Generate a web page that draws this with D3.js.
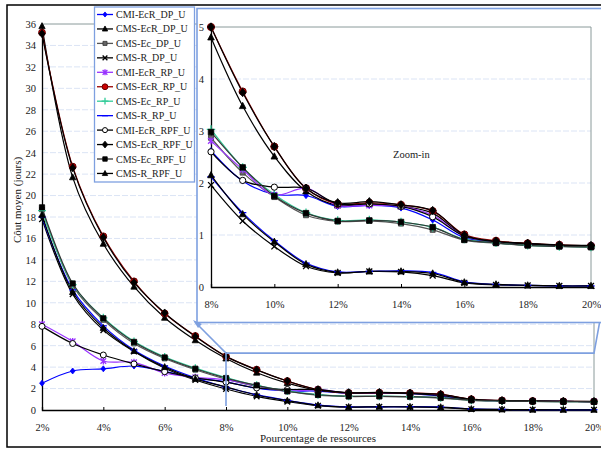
<!DOCTYPE html>
<html><head><meta charset="utf-8">
<script src="https://cdn.jsdelivr.net/npm/d3@7"></script>
<style>
body{margin:0;background:#fff}
svg{display:block}
text{font-family:"Liberation Serif","Times New Roman",serif;fill:#222}
</style>
</head><body>
<svg id="chart" width="601" height="450"></svg>
<script>
// ---------- DATA ----------
const percents = [2,3,4,5,6,7,8,9,10,11,12,13,14,15,16,17,18,19,20];
const mainXTicks = [2,4,6,8,10,12,14,16,18,20];
const mainYTicks = [0,2,4,6,8,10,12,14,16,18,20,22,24,26,28,30,32,34,36];
const insetXTicks = [8,10,12,14,16,18,20];
const insetYTicks = [0,1,2,3,4,5];
const seriesNames = ["CMI-EcR_DP_U","CMS-EcR_DP_U","CMS-Ec_DP_U","CMS-R_DP_U","CMI-EcR_RP_U","CMS-EcR_RP_U","CMS-Ec_RP_U","CMS-R_RP_U","CMI-EcR_RPF_U","CMS-EcR_RPF_U","CMS-Ec_RPF_U","CMS-R_RPF_U"];

const CMI_EcR_DP  = [2.5,3.64,3.84,4.1,3.6,3.0,2.62,2.04,1.78,1.76,1.55,1.57,1.52,1.29,0.95,0.86,0.82,0.8,0.78];
const CMS_EcR_DP  = [35.8,21.7,15.5,11.5,8.6,6.5,4.8,3.48,2.51,1.84,1.57,1.6,1.55,1.42,0.98,0.87,0.82,0.8,0.78];
const CMS_Ec_DP   = [18.7,11.6,8.4,6.2,4.8,3.75,2.87,2.2,1.73,1.38,1.26,1.27,1.22,1.1,0.9,0.84,0.8,0.78,0.76];
const CMS_R_DP    = [17.8,10.8,7.45,5.45,3.9,2.8,1.96,1.27,0.78,0.4,0.27,0.3,0.29,0.22,0.08,0.04,0.03,0.02,0.02];
const CMI_EcR_RP  = [8.0,6.4,4.57,4.45,3.45,3.05,2.81,2.26,1.77,1.9,1.57,1.57,1.55,1.38,0.98,0.87,0.83,0.8,0.79];
const CMS_EcR_RP  = [35.2,22.7,16.2,12.0,9.0,6.9,5.0,3.76,2.7,1.9,1.6,1.62,1.58,1.46,1.01,0.89,0.84,0.81,0.79];
const CMS_Ec_RP   = [18.6,11.7,8.6,6.4,4.95,3.9,3.03,2.3,1.78,1.43,1.28,1.29,1.25,1.15,0.92,0.85,0.8,0.78,0.77];
const CMS_R_RP    = [18.0,11.2,7.85,5.6,4.1,3.0,2.12,1.43,0.89,0.46,0.29,0.3,0.31,0.28,0.1,0.05,0.03,0.02,0.02];
const CMI_EcR_RPF = [7.8,6.2,5.13,4.3,3.57,3.0,2.6,2.05,1.92,1.9,1.6,1.6,1.55,1.35,0.98,0.87,0.83,0.8,0.79];
const CMS_EcR_RPF = [35.1,22.6,16.1,11.9,9.05,6.85,5.0,3.74,2.7,1.9,1.62,1.64,1.58,1.47,1.0,0.88,0.84,0.81,0.8];
const CMS_Ec_RPF  = [18.9,11.8,8.55,6.35,4.9,3.85,2.98,2.3,1.75,1.42,1.27,1.28,1.25,1.15,0.91,0.85,0.8,0.78,0.77];
const CMS_R_RPF   = [18.2,11.0,7.65,5.5,4.0,2.9,2.15,1.4,0.87,0.44,0.28,0.3,0.3,0.26,0.09,0.05,0.03,0.02,0.02];

const seriesValues = [CMI_EcR_DP,CMS_EcR_DP,CMS_Ec_DP,CMS_R_DP,CMI_EcR_RP,CMS_EcR_RP,CMS_Ec_RP,CMS_R_RP,CMI_EcR_RPF,CMS_EcR_RPF,CMS_Ec_RPF,CMS_R_RPF];

// ---------- STYLES ----------
const styles = [
  {line:"#0000ff", mark:"diamond", mfill:"#0000ff", mstroke:"#0000ff", ms:3},
  {line:"#000",    mark:"triangle",mfill:"#000",    mstroke:"#000",    ms:3.5},
  {line:"#555",    mark:"square",  mfill:"#666",    mstroke:"#333",    ms:3.2},
  {line:"#000",    mark:"x",       mfill:"none",    mstroke:"#000",    ms:3.5},
  {line:"#9933ff", mark:"star",    mfill:"none",    mstroke:"#9933ff", ms:3.5},
  {line:"#990000", mark:"circle",  mfill:"#cc0000", mstroke:"#660000", ms:4},
  {line:"#33cc99", mark:"plus",    mfill:"none",    mstroke:"#33cc99", ms:4},
  {line:"#0000ff", mark:"dash",    mfill:"none",    mstroke:"#0000ff", ms:3.5},
  {line:"#000",    mark:"ocircle", mfill:"#fff",    mstroke:"#000",    ms:3.5},
  {line:"#000",    mark:"diamond", mfill:"#000",    mstroke:"#000",    ms:4},
  {line:"#333",    mark:"square",  mfill:"#000",    mstroke:"#000",    ms:3.5},
  {line:"#000",    mark:"triangle",mfill:"#000",    mstroke:"#000",    ms:3.5}
];

const svg = d3.select("#chart");
const FONT = '"Liberation Serif","Times New Roman",serif';
const BLUE_FRAME = "#7ea0e0";
const GRID = "#dbe4f5";

function drawMarker(g, type, x, y, st, scale) {
  const s = st.ms * (scale || 1);
  let p;
  switch (type) {
    case "diamond": p = `M${x},${y-s}L${x+s*0.8},${y}L${x},${y+s}L${x-s*0.8},${y}Z`; break;
    case "triangle": p = `M${x},${y-s}L${x+s*0.9},${y+s*0.7}L${x-s*0.9},${y+s*0.7}Z`; break;
    case "square": p = `M${x-s*0.75},${y-s*0.75}h${s*1.5}v${s*1.5}h${-s*1.5}Z`; break;
    case "x": p = `M${x-s*0.8},${y-s*0.8}L${x+s*0.8},${y+s*0.8}M${x-s*0.8},${y+s*0.8}L${x+s*0.8},${y-s*0.8}`; break;
    case "star": p = `M${x-s*0.8},${y-s*0.8}L${x+s*0.8},${y+s*0.8}M${x-s*0.8},${y+s*0.8}L${x+s*0.8},${y-s*0.8}M${x},${y-s}L${x},${y+s}`; break;
    case "plus": p = `M${x-s},${y}L${x+s},${y}M${x},${y-s}L${x},${y+s}`; break;
    case "dash": p = `M${x-s},${y}L${x+s},${y}`; break;
    case "circle": case "ocircle":
      g.append("circle").attr("cx",x).attr("cy",y).attr("r",s*0.85)
        .attr("fill",st.mfill).attr("stroke",st.mstroke).attr("stroke-width",1);
      return;
  }
  const filled = ["diamond","triangle","square"].includes(type);
  g.append("path").attr("d",p)
    .attr("fill", filled ? st.mfill : "none")
    .attr("stroke", st.mstroke)
    .attr("stroke-width", filled ? 0.8 : 1.3);
}

// ---------- OUTER FRAME ----------
svg.append("rect").attr("x",7).attr("y",5).attr("width",600).attr("height",442)
  .attr("fill","#fff").attr("stroke","#000").attr("stroke-width",1.5);

// ---------- MAIN CHART ----------
const mx = d3.scaleLinear().domain([2,20]).range([42,594]);
const my = d3.scaleLinear().domain([0,36]).range([410,24]);
const main = svg.append("g");

main.selectAll(".grid").data(mainYTicks.filter(d=>d>0 && d<36)).enter().append("line")
  .attr("x1",mx(2)).attr("x2",mx(20)).attr("y1",d=>my(d)).attr("y2",d=>my(d))
  .attr("stroke",GRID).attr("stroke-width",1).attr("stroke-dasharray","6,2");
main.append("line").attr("x1",mx(2)).attr("x2",mx(20)).attr("y1",my(36)).attr("y2",my(36)).attr("stroke","#8a9a9a").attr("stroke-width",1);
main.append("line").attr("x1",mx(20)).attr("x2",mx(20)).attr("y1",my(36)).attr("y2",my(0)).attr("stroke","#8a9a9a").attr("stroke-width",1);

const mYAxis = main.append("g").attr("transform",`translate(${mx(2)},0)`)
  .call(d3.axisLeft(my).tickValues(mainYTicks).tickSize(0).tickPadding(6).tickFormat(d3.format("d")));
mYAxis.select(".domain").attr("stroke","#000").attr("stroke-width",1.3);
mYAxis.selectAll("text").attr("font-family",FONT).attr("font-size","10.5px").attr("fill","#222");

const mXAxis = main.append("g").attr("transform",`translate(0,${my(0)})`)
  .call(d3.axisBottom(mx).tickValues(mainXTicks).tickSize(-3).tickPadding(14).tickFormat(d=>d+"%"));
mXAxis.select(".domain").attr("stroke","#000").attr("stroke-width",1.3);
mXAxis.selectAll(".tick line").attr("stroke","#000");
mXAxis.selectAll("text").attr("font-family",FONT).attr("font-size","10.5px").attr("fill","#222");

main.append("text").attr("x",318).attr("y",442).attr("text-anchor","middle")
  .attr("font-size","11px").text("Pourcentage de ressources");
main.append("text").attr("transform","translate(21,200) rotate(-90)").attr("text-anchor","middle")
  .attr("font-size","11px").text("Côut moyen (jours)");

const mLine = d3.line().x((d,i)=>mx(percents[i])).y(d=>my(d)).curve(d3.curveCatmullRom.alpha(0.5));
seriesValues.forEach((vals,k)=>{
  const st = styles[k];
  main.append("path").attr("d",mLine(vals)).attr("fill","none")
    .attr("stroke",st.line).attr("stroke-width",1.2);
});
seriesValues.forEach((vals,k)=>{
  const st = styles[k];
  const g = main.append("g");
  vals.forEach((v,i)=>drawMarker(g, st.mark, mx(percents[i]), my(v), st, 1));
});

// zoom region rectangle + connectors
const zTop = my(5.3);
main.append("path")
  .attr("d",`M${mx(8)},${my(0)-4}L${mx(8)},${zTop}L${mx(20)},${zTop}L${mx(20)+8},${zTop-44}`)
  .attr("fill","none").attr("stroke",BLUE_FRAME).attr("stroke-width",1.6);
main.append("line").attr("x1",mx(8)).attr("y1",zTop).attr("x2",195).attr("y2",322)
  .attr("stroke",BLUE_FRAME).attr("stroke-width",1.6);
main.append("path").attr("d","M193,320 L202,324 L198,328 Z").attr("fill",BLUE_FRAME);

// ---------- INSET ----------
const inset = svg.append("g");
inset.append("rect").attr("x",197).attr("y",8.5).attr("width",410).attr("height",314)
  .attr("fill","#fff").attr("stroke",BLUE_FRAME).attr("stroke-width",1.6);
const ix = d3.scaleLinear().domain([8,20]).range([211,591]);
const iy = d3.scaleLinear().domain([0,5]).range([287,27]);

inset.selectAll(".grid").data(insetYTicks.filter(d=>d>0 && d<5)).enter().append("line")
  .attr("x1",ix(8)).attr("x2",ix(20)).attr("y1",d=>iy(d)).attr("y2",d=>iy(d))
  .attr("stroke",GRID).attr("stroke-width",1).attr("stroke-dasharray","6,2");
inset.append("line").attr("x1",ix(8)).attr("x2",ix(20)).attr("y1",iy(5)).attr("y2",iy(5)).attr("stroke","#8a9a9a");
inset.append("line").attr("x1",ix(20)).attr("x2",ix(20)).attr("y1",iy(5)).attr("y2",iy(0)).attr("stroke","#8a9a9a");

const iYAxis = inset.append("g").attr("transform",`translate(${ix(8)},0)`)
  .call(d3.axisLeft(iy).tickValues(insetYTicks).tickSize(0).tickPadding(7).tickFormat(d3.format("d")));
iYAxis.select(".domain").attr("stroke","#000").attr("stroke-width",1.3);
iYAxis.selectAll("text").attr("font-family",FONT).attr("font-size","10.5px").attr("fill","#222");

const iXAxis = inset.append("g").attr("transform",`translate(0,${iy(0)})`)
  .call(d3.axisBottom(ix).tickValues(insetXTicks).tickSize(-3).tickPadding(14).tickFormat(d=>d+"%"));
iXAxis.select(".domain").attr("stroke","#000").attr("stroke-width",1.3);
iXAxis.selectAll(".tick line").attr("stroke","#000");
iXAxis.selectAll("text").attr("font-family",FONT).attr("font-size","10.5px").attr("fill","#222");

inset.append("text").attr("x",393).attr("y",158).attr("font-size","10.5px").text("Zoom-in");

const startIdx = percents.indexOf(8);
const iLine = d3.line().x(d=>ix(d[0])).y(d=>iy(d[1])).curve(d3.curveCatmullRom.alpha(0.5));
seriesValues.forEach((vals,k)=>{
  const st = styles[k];
  const pts = percents.map((p,i)=>[p,vals[i]]).slice(startIdx);
  inset.append("path").attr("d",iLine(pts)).attr("fill","none")
    .attr("stroke",st.line).attr("stroke-width",1.2);
});
seriesValues.forEach((vals,k)=>{
  const st = styles[k];
  const g = inset.append("g");
  percents.forEach((p,i)=>{ if(i>=startIdx) drawMarker(g, st.mark, ix(p), iy(vals[i]), st, 1.05); });
});

// ---------- LEGEND ----------
const leg = svg.append("g");
leg.append("rect").attr("x",94.5).attr("y",7).attr("width",100).attr("height",175)
  .attr("fill","#fff").attr("stroke",BLUE_FRAME).attr("stroke-width",1.3);
seriesNames.forEach((name,k)=>{
  const st = styles[k];
  const y = 14.5 + k*14.45;
  leg.append("line").attr("x1",97).attr("x2",113).attr("y1",y).attr("y2",y)
    .attr("stroke",st.line).attr("stroke-width",1.3);
  drawMarker(leg, st.mark, 105, y, st, 0.85);
  leg.append("text").attr("x",116).attr("y",y+3.5).attr("font-size","10px").text(name);
});
</script>
</body></html>
